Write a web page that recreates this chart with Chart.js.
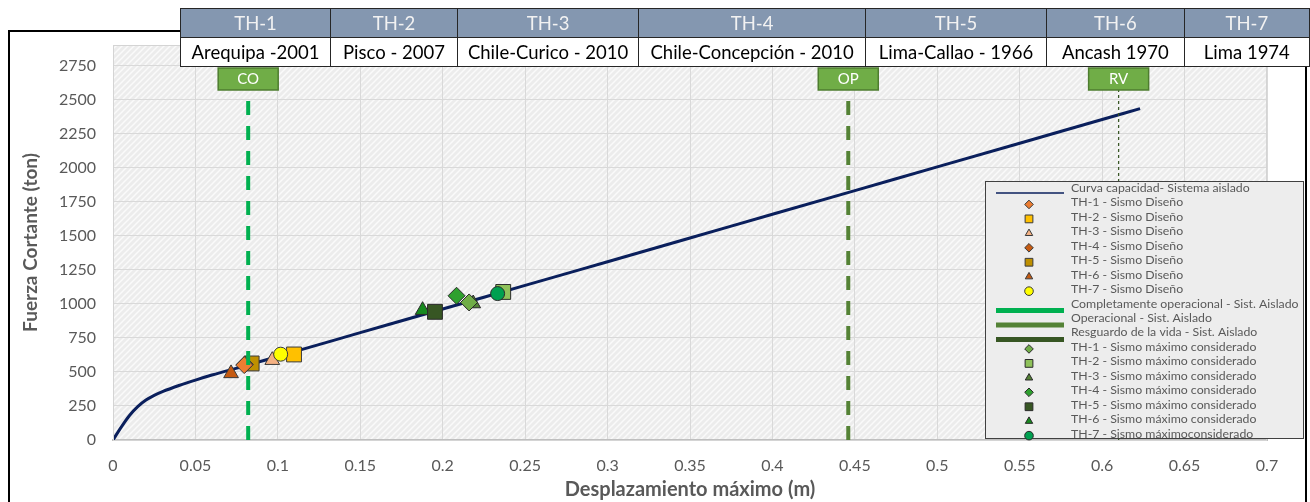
<!DOCTYPE html>
<html>
<head>
<meta charset="utf-8">
<script src="https://cdn.jsdelivr.net/npm/chart.js@4.4.0/dist/chart.umd.min.js"></script>
<style>
  body { margin: 0; background: #fff; font-family: Lato, "Open Sans", sans-serif; }
  #wrap { position: relative; width: 1310px; height: 502px; overflow: hidden; }
  #grafico { position: absolute; left: 0; top: 0; }
  table.sismos { position: absolute; left: 180px; top: 8px; border-collapse: collapse; table-layout: fixed; font-size: 18.5px; z-index: 2; }
  table.sismos td { border: 1px solid #262626; text-align: center; padding: 0; white-space: nowrap; overflow: hidden; }
  table.sismos tr.cab td { background: #8497b0; color: #f2f2f2; height: 28px; }
  table.sismos tr.lugar td { background: #fff; color: #000; height: 28px; }
</style>
</head>
<body>
<div id="wrap">
  <canvas id="grafico" width="1310" height="502"></canvas>
  <table class="sismos" id="tabla-sismos"></table>
</div>
<script>
// ---- datos ----
const sismoIds = ['TH-1', 'TH-2', 'TH-3', 'TH-4', 'TH-5', 'TH-6', 'TH-7'];
const sismoNombres = ['Arequipa -2001', 'Pisco - 2007', 'Chile-Curico - 2010', 'Chile-Concepción - 2010', 'Lima-Callao - 1966', 'Ancash 1970', 'Lima 1974'];
const anchoColumnas = [150, 127, 181, 227, 181, 138, 126];

// curva de capacidad del sistema aislado
const curvaX = [0, 0.005, 0.01, 0.015, 0.02, 0.025, 0.03, 0.04, 0.05, 0.06, 0.08, 0.1, 0.15, 0.2, 0.25, 0.3, 0.35, 0.4, 0.45, 0.5, 0.55, 0.6, 0.623];
const curvaY = [0, 95, 180, 245, 293, 328, 355, 400, 440, 477, 544, 614, 788, 962, 1135, 1309, 1483, 1657, 1831, 2005, 2179, 2353, 2433];

// sismo de diseño (desplazamiento m, cortante ton)
const disenoX = [0.0796, 0.1098, 0.0966, 0.0800, 0.0841, 0.0716, 0.1017];
const disenoY = [550, 628, 586, 555, 562, 489, 630];
const disenoEstilo = ['rectRot', 'rect', 'triangle', 'rectRot', 'rect', 'triangle', 'circle'];
const disenoColor = ['#ed7d31', '#ffc000', '#f4b183', '#c55a11', '#bf9000', '#c55a11', '#ffff00'];

// sismo máximo considerado
const maximoX = [0.2160, 0.2367, 0.2185, 0.2084, 0.1953, 0.1878, 0.2333];
const maximoY = [1010, 1087, 1002, 1059, 941, 953, 1075];
const maximoEstilo = ['rectRot', 'rect', 'triangle', 'rectRot', 'rect', 'triangle', 'circle'];
const maximoColor = ['#70ad47', '#8fc25a', '#548235', '#2ea02e', '#375623', '#178a1e', '#00a050'];

// niveles de desempeño
const nivelNombres = ['Completamente operacional - Sist. Aislado', 'Operacional - Sist. Aislado', 'Resguardo de la vida - Sist. Aislado'];
const nivelEtiquetas = ['CO', 'OP', 'RV'];
const nivelX = [0.082, 0.446, 0.610];
const nivelColor = ['#00b050', '#548235', '#375623'];

const yTicks = [0, 250, 500, 750, 1000, 1250, 1500, 1750, 2000, 2250, 2500, 2750];

// ---- tabla superior ----
const tabla = document.getElementById('tabla-sismos');
let filaCab = '<tr class="cab">', filaLugar = '<tr class="lugar">';
sismoIds.forEach((id, i) => {
  filaCab += `<td style="width:${anchoColumnas[i]}px">${id}</td>`;
  filaLugar += `<td>${sismoNombres[i]}</td>`;
});
tabla.innerHTML = filaCab + '</tr>' + filaLugar + '</tr>';

// ---- datasets ----
const radioMarcador = (estilo) => estilo === 'rect' ? 10.5 : (estilo === 'circle' ? 7 : 8.5);
const datasets = [];
datasets.push({
  label: 'Curva capacidad- Sistema aislado',
  data: curvaX.map((x, i) => ({ x: x, y: curvaY[i] })),
  showLine: true, borderColor: '#0a1f5c', borderWidth: 3, pointRadius: 0,
  cubicInterpolationMode: 'monotone', order: 10, legendLine: 1.5
});
sismoIds.forEach((id, i) => {
  datasets.push({
    label: id + ' - Sismo Diseño',
    data: [{ x: disenoX[i], y: disenoY[i] }],
    pointStyle: disenoEstilo[i], backgroundColor: disenoColor[i], borderColor: '#3a3a3a', borderWidth: 1,
    pointRadius: radioMarcador(disenoEstilo[i]), order: i === 6 ? 1.5 : 2
  });
});
nivelNombres.forEach((nombre, i) => {
  datasets.push({
    label: nombre,
    data: [{ x: nivelX[i], y: 0 }, { x: nivelX[i], y: 2700 }],
    showLine: true, borderColor: nivelColor[i], pointRadius: 0,
    borderWidth: i === 2 ? 1.2 : 4, borderDash: i === 2 ? [3, 3] : [14, 11],
    order: 1, legendLine: 5
  });
});
sismoIds.forEach((id, i) => {
  datasets.push({
    label: id + ' - Sismo máximo' + (i === 6 ? '' : ' ') + 'considerado',
    data: [{ x: maximoX[i], y: maximoY[i] }],
    pointStyle: maximoEstilo[i], backgroundColor: maximoColor[i], borderColor: '#2a2a2a', borderWidth: 1,
    pointRadius: radioMarcador(maximoEstilo[i]), order: i === 6 ? 1.5 : 2
  });
});

// fondo rayado del área de trazado
function crearTrama(ctx) {
  const c = document.createElement('canvas');
  c.width = 6; c.height = 6;
  const g = c.getContext('2d');
  g.fillStyle = '#ececec';
  g.fillRect(0, 0, 6, 6);
  g.strokeStyle = '#fafafa';
  g.lineWidth = 1.5;
  g.beginPath();
  g.moveTo(0, 6); g.lineTo(6, 0);
  g.moveTo(-3, 3); g.lineTo(3, -3);
  g.moveTo(3, 9); g.lineTo(9, 3);
  g.stroke();
  return ctx.createPattern(c, 'repeat');
}

const decoracion = {
  id: 'decoracion',
  beforeDraw(chart) {
    const { ctx, chartArea: a } = chart;
    ctx.save();
    ctx.fillStyle = crearTrama(ctx);
    ctx.fillRect(a.left, a.top, a.right - a.left, a.bottom - a.top);
    ctx.restore();
  },
  afterDatasetsDraw(chart) {
    const { ctx, chartArea: a } = chart;
    const xs = chart.scales.x;
    ctx.save();
    // borde del área de trazado
    ctx.strokeStyle = '#d4d4d4';
    ctx.lineWidth = 1;
    ctx.strokeRect(a.left + 0.5, a.top + 0.5, a.right - a.left - 1, a.bottom - a.top);
    // etiquetas de nivel de desempeño
    nivelX.forEach((x, i) => {
      const px = xs.getPixelForValue(x);
      ctx.fillStyle = '#70ad47';
      ctx.fillRect(px - 30, 68, 60, 22);
      ctx.strokeStyle = '#4e7d2f';
      ctx.lineWidth = 1.5;
      ctx.strokeRect(px - 30, 68, 60, 22);
      ctx.fillStyle = '#ffffff';
      ctx.font = '15px Lato, sans-serif';
      ctx.textAlign = 'center';
      ctx.textBaseline = 'middle';
      ctx.fillText(nivelEtiquetas[i], px, 79.5);
    });
    ctx.restore();
  },
  afterDraw(chart) {
    const ctx = chart.ctx;
    ctx.save();
    // marco exterior
    ctx.strokeStyle = '#000';
    ctx.lineWidth = 2;
    ctx.beginPath();
    ctx.moveTo(9, 502); ctx.lineTo(9, 31); ctx.lineTo(182, 31);
    ctx.moveTo(1306, 66); ctx.lineTo(1306, 502);
    ctx.stroke();

    // leyenda
    const lx = 985, ly = 181, lw = 318, lh = 257;
    ctx.fillStyle = '#ededed';
    ctx.fillRect(lx, ly, lw, lh);
    ctx.strokeStyle = '#404040';
    ctx.lineWidth = 1;
    ctx.strokeRect(lx + 0.5, ly + 0.5, lw, lh);
    ctx.font = '12.3px Lato, sans-serif';
    ctx.textBaseline = 'middle';
    ctx.textAlign = 'left';
    chart.data.datasets.forEach((ds, i) => {
      const y = 188 + i * 14.45;
      if (ds.legendLine) {
        ctx.strokeStyle = ds.borderColor;
        ctx.lineWidth = ds.legendLine;
        ctx.beginPath();
        const yl = ds.legendLine > 2 ? y + 7 : y + 5;
        ctx.moveTo(996, yl); ctx.lineTo(1064, yl);
        ctx.stroke();
      } else {
        ctx.fillStyle = ds.backgroundColor;
        ctx.strokeStyle = ds.borderColor;
        ctx.lineWidth = 1;
        Chart.helpers.drawPoint(ctx, { pointStyle: ds.pointStyle, radius: ds.pointStyle === 'rect' ? 5.5 : 4.3, rotation: 0, borderWidth: 1 }, 1029, y + 2);
      }
      ctx.fillStyle = '#595959';
      ctx.fillText(ds.label, 1071, y);
    });
    ctx.restore();
  }
};

new Chart(document.getElementById('grafico'), {
  type: 'scatter',
  data: { datasets: datasets },
  options: {
    responsive: false,
    animation: false,
    layout: { padding: { left: 8, right: 43, top: 45, bottom: 0 } },
    plugins: { legend: { display: false }, tooltip: { enabled: false } },
    scales: {
      x: {
        type: 'linear', min: 0, max: 0.7,
        afterFit: (s) => { s.height = 62; },
        grid: { color: '#d9d9d9', drawTicks: false },
        border: { color: '#bfbfbf', width: 2 },
        ticks: {
          stepSize: 0.05, padding: 16, color: '#595959', font: { size: 16, family: 'Lato' },
          callback: (v) => String(Math.round(v * 100) / 100)
        },
        title: {
          display: true, text: 'Desplazamiento máximo (m)', color: '#595959',
          font: { size: 20, weight: 'bold', family: 'Lato' }, padding: { top: 0, bottom: 0 }
        }
      },
      y: {
        type: 'linear', min: 0, max: 2900,
        afterFit: (s) => { s.width = 105; },
        afterBuildTicks: (s) => { s.ticks = yTicks.map(v => ({ value: v })); },
        grid: { color: '#d9d9d9', drawTicks: false },
        border: { color: '#d4d4d4', width: 1 },
        ticks: { padding: 17, color: '#595959', font: { size: 16, family: 'Lato' }, callback: (v) => String(v) },
        title: {
          display: true, text: 'Fuerza Cortante (ton)', color: '#595959',
          font: { size: 19, weight: 'bold', family: 'Lato' }, padding: { top: 11, bottom: 0 }
        }
      }
    }
  },
  plugins: [decoracion]
});
</script>
</body>
</html>
